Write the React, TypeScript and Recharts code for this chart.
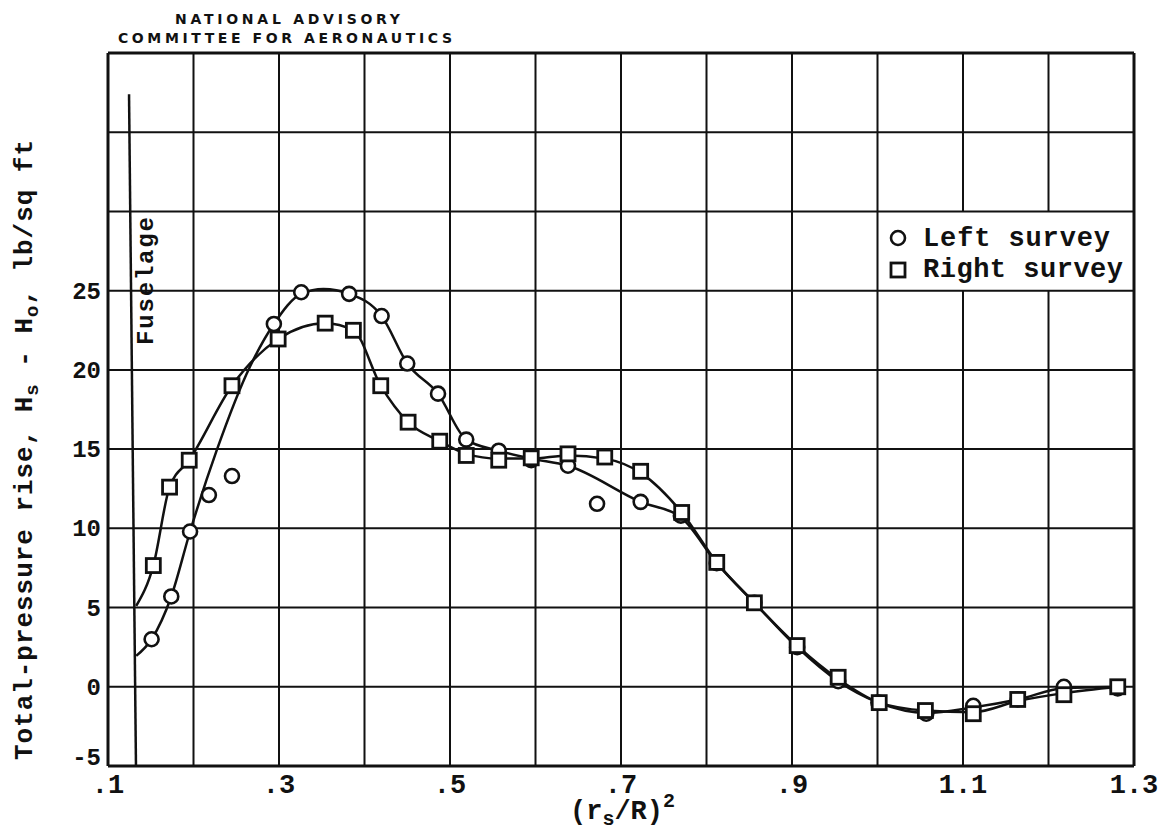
import React from 'react';
import { ComposedChart, Line, Scatter, XAxis, YAxis, ReferenceLine } from 'recharts';

// measured points, left survey (circles)
const leftX = [0.151, 0.174, 0.196, 0.218, 0.245, 0.294, 0.326, 0.382, 0.42, 0.45, 0.486, 0.519, 0.557, 0.595, 0.638, 0.672, 0.723, 0.77, 0.812, 0.856, 0.906, 0.954, 1.001, 1.057, 1.112, 1.164, 1.218, 1.281];
const leftY = [3.0, 5.7, 9.8, 12.1, 13.3, 22.9, 24.9, 24.8, 23.4, 20.4, 18.5, 15.6, 14.9, 14.3, 13.95, 11.55, 11.67, 10.8, 7.8, 5.3, 2.5, 0.35, -1.0, -1.7, -1.2, -0.8, 0.0, -0.1];

// measured points, right survey (squares)
const rightX = [0.153, 0.172, 0.195, 0.245, 0.299, 0.354, 0.387, 0.419, 0.451, 0.488, 0.519, 0.557, 0.595, 0.638, 0.681, 0.723, 0.771, 0.812, 0.856, 0.906, 0.954, 1.002, 1.056, 1.112, 1.164, 1.218, 1.281];
const rightY = [7.65, 12.6, 14.3, 19.0, 21.95, 22.95, 22.5, 19.0, 16.7, 15.5, 14.6, 14.3, 14.45, 14.7, 14.5, 13.6, 11.0, 7.85, 5.3, 2.6, 0.6, -1.0, -1.5, -1.7, -0.8, -0.5, 0.0];

// faired curves
const leftCurveX = [0.133, 0.151, 0.174, 0.196, 0.227, 0.266, 0.294, 0.326, 0.352, 0.382, 0.42, 0.45, 0.486, 0.519, 0.557, 0.595, 0.638, 0.723, 0.77, 0.812, 0.856, 0.906, 0.954, 1.001, 1.057, 1.112, 1.164, 1.218, 1.281];
const leftCurveY = [1.95, 3.0, 5.7, 9.8, 14.9, 20.2, 22.9, 24.8, 25.1, 24.8, 23.4, 20.4, 18.5, 15.6, 14.9, 14.4, 13.95, 11.67, 10.7, 7.8, 5.3, 2.5, 0.35, -1.0, -1.65, -1.3, -0.8, -0.1, 0.0];
const rightCurveX = [0.133, 0.153, 0.172, 0.195, 0.245, 0.299, 0.354, 0.387, 0.419, 0.451, 0.488, 0.519, 0.557, 0.595, 0.638, 0.681, 0.723, 0.771, 0.812, 0.856, 0.906, 0.954, 1.002, 1.056, 1.112, 1.164, 1.218, 1.281];
const rightCurveY = [5.1, 7.65, 12.6, 14.3, 19.0, 21.95, 22.95, 22.5, 19.0, 16.7, 15.5, 14.7, 14.4, 14.4, 14.6, 14.4, 13.5, 11.0, 7.85, 5.3, 2.6, 0.5, -1.0, -1.5, -1.6, -0.9, -0.4, 0.0];

const xTicks = [0.1, 0.3, 0.5, 0.7, 0.9, 1.1, 1.3];
const yTicks = [-5, 0, 5, 10, 15, 20, 25];
const gridX = [0.2, 0.3, 0.4, 0.5, 0.6, 0.7, 0.8, 0.9, 1.0];
const gridXBroken = [1.1, 1.2]; // interrupted by the legend box
const gridY = [0, 5, 10, 15, 20, 25, 30, 35];

const zip = (xs: number[], ys: number[]) => xs.map((x, i) => ({ x, y: ys[i] }));
const leftPts = zip(leftX, leftY);
const rightPts = zip(rightX, rightY);
const leftCurve = zip(leftCurveX, leftCurveY);
const rightCurve = zip(rightCurveX, rightCurveY);

const W = 1164;
const H = 831;
const mono = '"Liberation Mono", "DejaVu Sans Mono", monospace';
const ink = '#111';

const fmtX = (v: number) => (v < 1 ? '.' + Math.round(v * 10) : v.toFixed(1));

const XTick = (props: any) => {
  const { x, payload } = props;
  return (
    <text x={x} y={793} textAnchor="middle" fontFamily={mono} fontWeight="bold" fontSize={27} fill={ink}>
      {fmtX(payload.value)}
    </text>
  );
};

const YTick = (props: any) => {
  const { y, payload } = props;
  // the bottom label sits just above its line, clear of the x labels
  const dy = payload.value === -5 ? -1 : 8;
  return (
    <text x={101} y={y} dy={dy} textAnchor="end" fontFamily={mono} fontWeight="bold" fontSize={24} fill={ink}>
      {payload.value}
    </text>
  );
};

const CircleDot = (props: any) => (
  <circle cx={props.cx} cy={props.cy} r={7} fill="#fff" stroke={ink} strokeWidth={2.6} />
);

const SquareDot = (props: any) => (
  <rect x={props.cx - 7} y={props.cy - 7} width={14} height={14} fill="#fff" stroke={ink} strokeWidth={2.8} />
);

export default function App() {
  return (
    <div style={{ position: 'absolute', left: 0, top: 0, width: W, height: H, background: '#fff' }}>
      <ComposedChart width={W} height={H} margin={{ top: 53, right: 30, bottom: 0, left: 0 }}>
        <XAxis type="number" dataKey="x" domain={[0.1, 1.3]} ticks={xTicks} interval={0} allowDataOverflow
          height={65} axisLine={false} tickLine={false} tick={<XTick />} />
        <YAxis type="number" dataKey="y" domain={[-5, 40]} ticks={yTicks} interval={0} allowDataOverflow
          width={108} axisLine={false} tickLine={false} tick={<YTick />} />

        {gridX.map((v) => (
          <ReferenceLine key={'gx' + v} x={v} stroke={ink} strokeWidth={2} />
        ))}
        {gridXBroken.map((v) => (
          <ReferenceLine key={'gxa' + v} segment={[{ x: v, y: -5 }, { x: v, y: 25 }]} stroke={ink} strokeWidth={2} />
        ))}
        {gridXBroken.map((v) => (
          <ReferenceLine key={'gxb' + v} segment={[{ x: v, y: 30 }, { x: v, y: 40 }]} stroke={ink} strokeWidth={2} />
        ))}
        {gridY.map((v) => (
          <ReferenceLine key={'gy' + v} y={v} stroke={ink} strokeWidth={2} />
        ))}
        {/* frame */}
        <ReferenceLine x={0.1} stroke={ink} strokeWidth={3} />
        <ReferenceLine x={1.3} stroke={ink} strokeWidth={3} />
        <ReferenceLine y={-5} stroke={ink} strokeWidth={3} />
        <ReferenceLine y={40} stroke={ink} strokeWidth={3} />
        {/* fuselage wall */}
        <ReferenceLine segment={[{ x: 0.1246, y: 37.4 }, { x: 0.1327, y: -5 }]} stroke={ink} strokeWidth={2.5} />

        <Line data={leftCurve} dataKey="y" type="monotone" stroke={ink} strokeWidth={2.5} dot={false}
          activeDot={false} isAnimationActive={false} />
        <Line data={rightCurve} dataKey="y" type="monotone" stroke={ink} strokeWidth={2.5} dot={false}
          activeDot={false} isAnimationActive={false} />
        <Scatter data={leftPts} dataKey="y" shape={<CircleDot />} isAnimationActive={false} />
        <Scatter data={rightPts} dataKey="y" shape={<SquareDot />} isAnimationActive={false} />
      </ComposedChart>

      <svg width={W} height={H} style={{ position: 'absolute', left: 0, top: 0, pointerEvents: 'none' }}>
        {/* header */}
        <text x={175} y={24} fontFamily='"DejaVu Sans", sans-serif' fontWeight="bold" fontSize={14}
          textLength={225} lengthAdjust="spacing" fill={ink}>NATIONAL ADVISORY</text>
        <text x={118} y={43} fontFamily='"DejaVu Sans", sans-serif' fontWeight="bold" fontSize={14}
          textLength={334} lengthAdjust="spacing" fill={ink}>COMMITTEE FOR AERONAUTICS</text>

        {/* y axis title */}
        <text transform="translate(32,450) rotate(-90)" textAnchor="middle" fontFamily={mono} fontWeight="bold"
          fontSize={26} textLength={620} lengthAdjust="spacing" fill={ink}>
          Total-pressure rise, H<tspan fontSize={19} dy={6}>s</tspan>
          <tspan dy={-6}> - H</tspan><tspan fontSize={19} dy={6}>o</tspan>
          <tspan dy={-6}>, lb/sq ft</tspan>
        </text>

        {/* fuselage label */}
        <text transform="translate(153,281) rotate(-90)" textAnchor="middle" fontFamily={mono} fontWeight="bold"
          fontSize={24} textLength={128} lengthAdjust="spacing" fill={ink}>Fuselage</text>

        {/* x axis title */}
        <text x={570} y={819} fontFamily={mono} fontWeight="bold" fontSize={27} fill={ink}>
          (r<tspan fontSize={20} dy={6}>s</tspan><tspan dy={-6}>/R)</tspan>
          <tspan fontSize={20} dy={-12}>2</tspan>
        </text>

        {/* legend */}
        <circle cx={898} cy={238} r={7} fill="#fff" stroke={ink} strokeWidth={2.6} />
        <text x={923} y={246} fontFamily={mono} fontWeight="bold" fontSize={27} textLength={187}
          lengthAdjust="spacing" fill={ink}>Left survey</text>
        <rect x={891} y={263} width={14} height={14} fill="#fff" stroke={ink} strokeWidth={2.8} />
        <text x={923} y={277} fontFamily={mono} fontWeight="bold" fontSize={27} textLength={200}
          lengthAdjust="spacing" fill={ink}>Right survey</text>
      </svg>
    </div>
  );
}
